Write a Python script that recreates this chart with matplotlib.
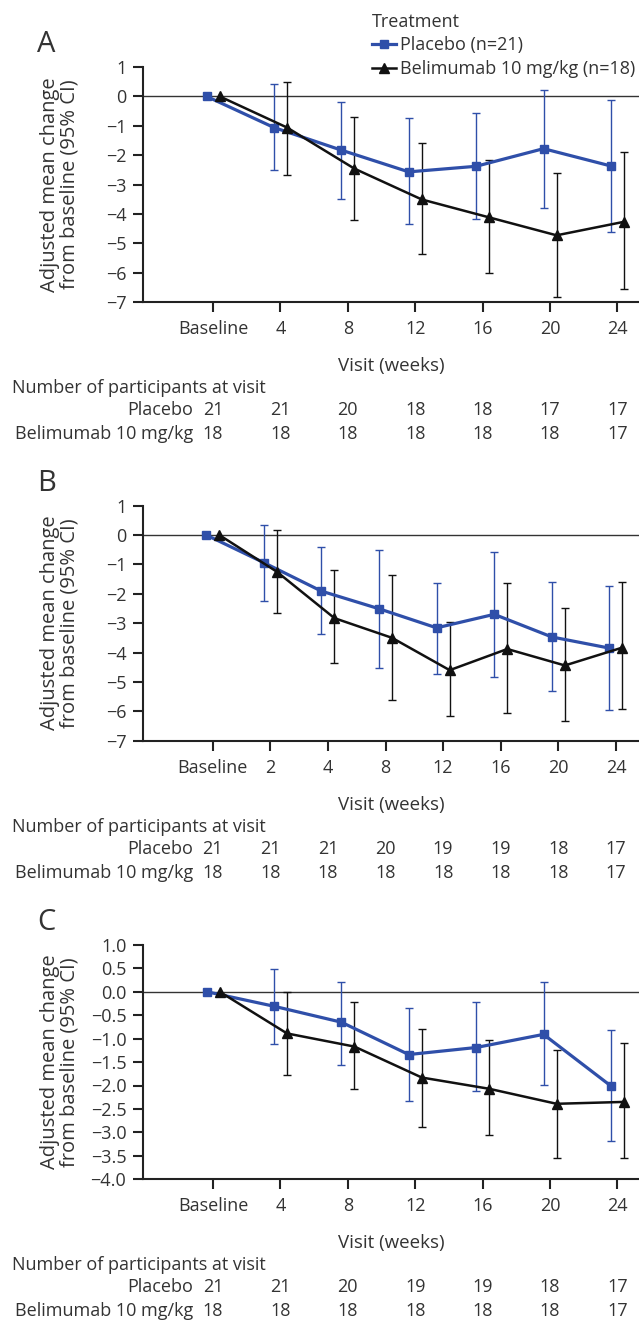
import numpy as np
import matplotlib
matplotlib.use('Agg')
import matplotlib.pyplot as plt
from matplotlib import transforms

plt.rcParams['font.family'] = ['Open Sans', 'DejaVu Sans']

nan = np.nan

# ---- Panel A ----
a_weeks = ['Baseline', '4', '8', '12', '16', '20', '24']
a_pla_mean = [0, -1.06, -1.83, -2.57, -2.38, -1.78, -2.37]
a_pla_lo = [nan, -2.51, -3.49, -4.33, -4.19, -3.79, -4.60]
a_pla_hi = [nan, 0.42, -0.20, -0.75, -0.55, 0.23, -0.12]
a_bel_mean = [0, -1.06, -2.46, -3.51, -4.12, -4.73, -4.27]
a_bel_lo = [nan, -2.68, -4.21, -5.35, -6.00, -6.84, -6.55]
a_bel_hi = [nan, 0.50, -0.69, -1.59, -2.15, -2.60, -1.89]
a_n_pla = [21, 21, 20, 18, 18, 17, 17]
a_n_bel = [18, 18, 18, 18, 18, 18, 17]

# ---- Panel B ----
b_weeks = ['Baseline', '2', '4', '8', '12', '16', '20', '24']
b_pla_mean = [0, -0.94, -1.91, -2.51, -3.16, -2.70, -3.47, -3.85]
b_pla_lo = [nan, -2.25, -3.36, -4.54, -4.72, -4.84, -5.32, -5.94]
b_pla_hi = [nan, 0.35, -0.41, -0.50, -1.62, -0.59, -1.59, -1.74]
b_bel_mean = [0, -1.25, -2.83, -3.50, -4.60, -3.88, -4.44, -3.83]
b_bel_lo = [nan, -2.64, -4.37, -5.62, -6.17, -6.06, -6.33, -5.93]
b_bel_hi = [nan, 0.18, -1.19, -1.36, -2.97, -1.63, -2.49, -1.61]
b_n_pla = [21, 21, 21, 20, 19, 19, 18, 17]
b_n_bel = [18, 18, 18, 18, 18, 18, 18, 17]

# ---- Panel C ----
c_weeks = ['Baseline', '4', '8', '12', '16', '20', '24']
c_pla_mean = [0, -0.31, -0.65, -1.34, -1.19, -0.91, -2.01]
c_pla_lo = [nan, -1.12, -1.56, -2.34, -2.12, -1.99, -3.19]
c_pla_hi = [nan, 0.49, 0.20, -0.34, -0.23, 0.21, -0.81]
c_bel_mean = [0, -0.89, -1.17, -1.83, -2.07, -2.39, -2.35]
c_bel_lo = [nan, -1.78, -2.08, -2.88, -3.05, -3.54, -3.55]
c_bel_hi = [nan, 0.0, -0.23, -0.79, -1.04, -1.24, -1.09]
c_n_pla = [21, 21, 20, 19, 19, 18, 17]
c_n_bel = [18, 18, 18, 18, 18, 18, 17]

BLUE = '#2f4fa9'
BLACK = '#111111'
TXT = '#333333'
W, H = 639, 1329
FS = 13

fig = plt.figure(figsize=(W / 100, H / 100), dpi=100)


def fx(px):
    return px / W


def fy(py):
    return 1 - py / H


def panel(letter, top, bottom, weeks, pla, bel, n_pla, n_bel, ylim, yticks, yfmt, xlim):
    ax = fig.add_axes([fx(143), fy(bottom), fx(W - 143), (bottom - top) / H])
    x = np.arange(len(weeks))
    left_shift = transforms.offset_copy(ax.transData, fig, x=-4.7, y=0, units='points')
    right_shift = transforms.offset_copy(ax.transData, fig, x=4.7, y=0, units='points')

    ax.axhline(0, color='#333333', lw=1.0, zorder=1)

    for (mean, lo, hi), col, tr, mk, ms, lw, lab in [
        (pla, BLUE, left_shift, 's', 5.5, 2.3, 'Placebo (n=21)'),
        (bel, BLACK, right_shift, '^', 6.5, 1.8, 'Belimumab 10 mg/kg (n=18)'),
    ]:
        mean = np.array(mean, dtype=float)
        lo = np.array(lo, dtype=float)
        hi = np.array(hi, dtype=float)
        yerr = np.vstack([mean - lo, hi - mean])
        ax.errorbar(x, mean, yerr=yerr, fmt='none', ecolor=col, elinewidth=1.0,
                    capsize=2.8, capthick=1.0, transform=tr, zorder=2)
        ax.plot(x, mean, color=col, marker=mk, markersize=ms, lw=lw,
                transform=tr, zorder=3, label=lab)

    ax.set_xlim(*xlim)
    ax.set_ylim(*ylim)
    ax.set_xticks(x)
    ax.set_xticklabels(weeks)
    ax.set_yticks(yticks)
    ax.set_yticklabels([yfmt.format(v).replace('-', '\u2212') for v in yticks])
    for s in ['top', 'right']:
        ax.spines[s].set_visible(False)
    for s in ['left', 'bottom']:
        ax.spines[s].set_linewidth(1.5)
        ax.spines[s].set_color('#222222')
    ax.tick_params(axis='both', direction='out', length=7, width=1.5, color='#222222',
                   labelsize=FS, labelcolor=TXT)
    ax.tick_params(axis='x', pad=6)
    ax.tick_params(axis='y', pad=5)

    # y label and panel letter
    fig.text(fx(60), fy((top + bottom) / 2), 'Adjusted mean change\nfrom baseline (95% CI)',
             rotation=90, ha='center', va='center', fontsize=14.5, color=TXT, linespacing=0.95)
    fig.text(fx(37), fy(top - 22), letter, fontsize=21, color=TXT, ha='left', va='center')

    # x label and participants table
    fig.text(fx(391), fy(bottom + 64), 'Visit (weeks)', ha='center', va='center',
             fontsize=FS + 0.5, color=TXT)
    fig.text(fx(12), fy(bottom + 86), 'Number of participants at visit', ha='left',
             va='center', fontsize=FS, color=TXT)
    fig.text(fx(193), fy(bottom + 108), 'Placebo', ha='right', va='center',
             fontsize=FS, color=TXT)
    fig.text(fx(193), fy(bottom + 132), 'Belimumab 10 mg/kg', ha='right', va='center',
             fontsize=FS, color=TXT)
    blend = transforms.blended_transform_factory(ax.transData, fig.transFigure)
    for i in range(len(weeks)):
        ax.text(x[i], fy(bottom + 108), str(n_pla[i]), transform=blend, ha='center',
                va='center', fontsize=FS, color=TXT, clip_on=False)
        ax.text(x[i], fy(bottom + 132), str(n_bel[i]), transform=blend, ha='center',
                va='center', fontsize=FS, color=TXT, clip_on=False)
    return ax


ax_a = panel('A', 67, 302, a_weeks,
             (a_pla_mean, a_pla_lo, a_pla_hi), (a_bel_mean, a_bel_lo, a_bel_hi),
             a_n_pla, a_n_bel, (-7, 1), list(range(-7, 2)), '{:d}', (-1.04, 6.32))
panel('B', 505.6, 740.7, b_weeks,
      (b_pla_mean, b_pla_lo, b_pla_hi), (b_bel_mean, b_bel_lo, b_bel_hi),
      b_n_pla, b_n_bel, (-7, 1), list(range(-7, 2)), '{:d}', (-1.21, 7.4))
panel('C', 944.8, 1179.3, c_weeks,
      (c_pla_mean, c_pla_lo, c_pla_hi), (c_bel_mean, c_bel_lo, c_bel_hi),
      c_n_pla, c_n_bel, (-4, 1), list(np.arange(-4.0, 1.01, 0.5)), '{:.1f}', (-1.04, 6.32))

leg = ax_a.legend(title='Treatment', loc='upper left', bbox_to_anchor=(fx(363), fy(4)),
                  bbox_transform=fig.transFigure, frameon=False, fontsize=FS,
                  title_fontsize=FS, handlelength=1.3, handletextpad=0.25,
                  labelspacing=0.3, borderpad=0, alignment='left')
for t in leg.get_texts():
    t.set_color(TXT)
leg.get_title().set_color(TXT)

fig.savefig('out.png', dpi=100)
